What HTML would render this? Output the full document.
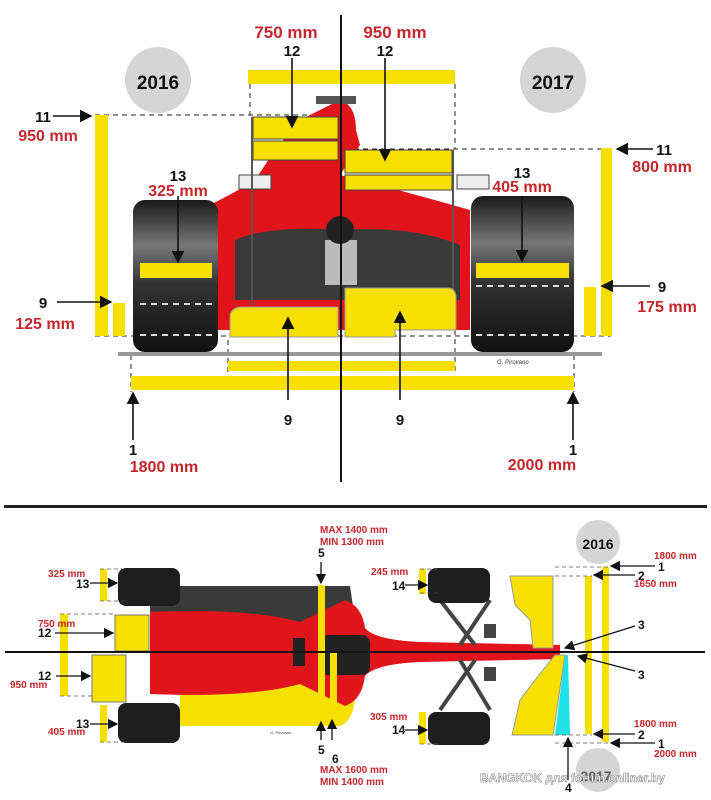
<!DOCTYPE html>
<html><head><meta charset="utf-8"><style>
html,body{margin:0;padding:0;background:#fff;}
svg{display:block;}
.r{fill:#c4262c;font-family:"Liberation Sans",sans-serif;font-weight:bold;}
.b{fill:#111;font-family:"Liberation Sans",sans-serif;font-weight:bold;}
</style></head><body>
<svg width="711" height="800" viewBox="0 0 711 800" xmlns="http://www.w3.org/2000/svg">
<defs>
<linearGradient id="tire" x1="0" y1="0" x2="0" y2="1">
<stop offset="0" stop-color="#1a1a1a"/><stop offset="0.3" stop-color="#777"/><stop offset="0.55" stop-color="#333"/><stop offset="1" stop-color="#111"/></linearGradient>
<marker id="ah" markerWidth="8" markerHeight="8" refX="7" refY="4" orient="auto"><path d="M0,0 L8,4 L0,8z" fill="#111"/></marker>
</defs>
<!-- TOP SECTION -->
<circle cx="158" cy="80" r="33" fill="#d5d5d5"/>
<circle cx="553" cy="80" r="33" fill="#d5d5d5"/>
<text x="158" y="89" class="b" font-size="19" text-anchor="middle">2016</text>
<text x="553" y="89" class="b" font-size="19" text-anchor="middle">2017</text>
<rect x="248" y="70" width="207" height="14" fill="#f7e000"/>
<g stroke="#222" stroke-dasharray="5,4" fill="none" stroke-width="1">
<line x1="250" y1="84" x2="250" y2="115"/><line x1="455" y1="84" x2="455" y2="149"/>
<line x1="95" y1="115" x2="340" y2="115"/><line x1="345" y1="149" x2="611" y2="149"/>
<line x1="95" y1="336" x2="611" y2="336"/>
<line x1="131" y1="355" x2="131" y2="392"/><line x1="574" y1="355" x2="574" y2="392"/>
<line x1="228" y1="340" x2="228" y2="372"/><line x1="455" y1="330" x2="455" y2="372"/>
</g>
<!-- red body -->
<path d="M200,330 L200,210 Q240,190 255,180 L275,150 L300,120 L340,100 Q356,105 356,130 L360,145 L340,175 Q400,190 470,210 L470,330z" fill="#e0141a"/>
<path d="M235,240 Q270,225 340,230 Q410,225 460,245 L460,300 L235,300z" fill="#3a3a3a"/>
<rect x="325" y="240" width="32" height="45" fill="#bbb"/>
<circle cx="340" cy="230" r="14" fill="#222"/>
<!-- wings -->
<rect x="253" y="117" width="85" height="22" fill="#f7e000" stroke="#444" stroke-width="1"/>
<rect x="253" y="141" width="85" height="19" fill="#f7e000" stroke="#444" stroke-width="1"/>
<rect x="345" y="150" width="107" height="23" fill="#f7e000" stroke="#444" stroke-width="1"/>
<rect x="345" y="175" width="107" height="15" fill="#f7e000" stroke="#444" stroke-width="1"/>
<rect x="316" y="96" width="40" height="8" fill="#555"/>
<rect x="239" y="175" width="32" height="14" fill="#eee" stroke="#444"/>
<rect x="457" y="175" width="32" height="14" fill="#eee" stroke="#444"/>
<line x1="252" y1="117" x2="252" y2="305" stroke="#555" stroke-width="2"/>
<line x1="453" y1="150" x2="453" y2="300" stroke="#555" stroke-width="2"/>
<!-- diffuser -->
<path d="M230,337 L230,315 Q232,308 240,307 L338,307 L338,337z" fill="#f7e000" stroke="#999"/>
<path d="M345,337 L345,288 L450,288 Q456,290 456,298 L456,330 L395,330 L395,337z" fill="#f7e000" stroke="#999"/>
<!-- tires -->
<rect x="133" y="200" width="85" height="152" rx="12" fill="url(#tire)"/>
<rect x="471" y="196" width="103" height="156" rx="12" fill="url(#tire)"/>
<rect x="140" y="263" width="72" height="15" fill="#f7e000"/>
<rect x="476" y="263" width="93" height="15" fill="#f7e000"/>
<g stroke="#ddd" stroke-dasharray="6,5" stroke-width="2"><line x1="140" y1="304" x2="212" y2="304"/><line x1="476" y1="286" x2="569" y2="286"/><line x1="140" y1="335" x2="212" y2="335"/><line x1="476" y1="335" x2="569" y2="335"/></g>
<rect x="118" y="352" width="484" height="4" fill="#999"/>
<text x="497" y="364" font-size="6" font-style="italic" fill="#333" font-family="Liberation Sans">G. Pirovano</text>
<rect x="228" y="361" width="227" height="10" fill="#f7e000"/>
<rect x="131" y="376" width="443" height="14" fill="#f7e000"/>
<rect x="95" y="115" width="13" height="221" fill="#f7e000"/>
<rect x="113" y="303" width="12" height="33" fill="#f7e000"/>
<rect x="601" y="148" width="11" height="188" fill="#f7e000"/>
<rect x="584" y="287" width="12" height="49" fill="#f7e000"/>
<line x1="341" y1="15" x2="341" y2="482" stroke="#111" stroke-width="2"/>
<!-- arrows top -->
<g stroke="#111" stroke-width="1.6" marker-end="url(#ah)" fill="none">
<line x1="292" y1="58" x2="292" y2="127"/><line x1="385" y1="58" x2="385" y2="160"/>
<line x1="53" y1="116" x2="91" y2="116"/><line x1="653" y1="149" x2="617" y2="149"/>
<line x1="178" y1="196" x2="178" y2="262"/><line x1="522" y1="196" x2="522" y2="261"/>
<line x1="57" y1="302" x2="111" y2="302"/><line x1="650" y1="286" x2="602" y2="286"/>
<line x1="288" y1="400" x2="288" y2="318"/><line x1="400" y1="400" x2="400" y2="312"/>
<line x1="133" y1="440" x2="133" y2="393"/><line x1="573" y1="440" x2="573" y2="393"/>
</g>
<text x="286" y="38" class="r" font-size="17" text-anchor="middle">750 mm</text>
<text x="395" y="38" class="r" font-size="17" text-anchor="middle">950 mm</text>
<text x="292" y="56" class="b" font-size="15" text-anchor="middle">12</text>
<text x="385" y="56" class="b" font-size="15" text-anchor="middle">12</text>
<text x="43" y="122" class="b" font-size="15" text-anchor="middle">11</text>
<text x="48" y="141" class="r" font-size="16" text-anchor="middle">950 mm</text>
<text x="664" y="155" class="b" font-size="15" text-anchor="middle">11</text>
<text x="662" y="172" class="r" font-size="16" text-anchor="middle">800 mm</text>
<text x="178" y="181" class="b" font-size="15" text-anchor="middle">13</text>
<text x="178" y="196" class="r" font-size="16" text-anchor="middle">325 mm</text>
<text x="522" y="178" class="b" font-size="15" text-anchor="middle">13</text>
<text x="522" y="192" class="r" font-size="16" text-anchor="middle">405 mm</text>
<text x="43" y="308" class="b" font-size="15" text-anchor="middle">9</text>
<text x="45" y="329" class="r" font-size="16" text-anchor="middle">125 mm</text>
<text x="662" y="292" class="b" font-size="15" text-anchor="middle">9</text>
<text x="667" y="312" class="r" font-size="16" text-anchor="middle">175 mm</text>
<text x="288" y="425" class="b" font-size="15" text-anchor="middle">9</text>
<text x="400" y="425" class="b" font-size="15" text-anchor="middle">9</text>
<text x="133" y="455" class="b" font-size="15" text-anchor="middle">1</text>
<text x="164" y="472" class="r" font-size="16" text-anchor="middle">1800 mm</text>
<text x="573" y="455" class="b" font-size="15" text-anchor="middle">1</text>
<text x="542" y="470" class="r" font-size="16" text-anchor="middle">2000 mm</text>
<rect x="4" y="505" width="703" height="3" fill="#222"/>

<!-- BOTTOM SECTION -->
<circle cx="598" cy="542" r="22" fill="#d5d5d5"/>
<text x="598" y="549" class="b" font-size="14" text-anchor="middle">2016</text>
<circle cx="598" cy="770" r="22" fill="#d5d5d5"/>
<!-- floor / body -->
<path d="M150,586 L350,586 L355,620 L350,652 L150,652z" fill="#3a3a3a"/>
<path d="M180,652 L350,652 L355,700 Q352,722 340,726 L180,726z" fill="#f7e000"/>
<path d="M150,612 Q250,608 300,622 L345,600 Q362,606 365,628 Q375,640 420,642 L560,645 L560,659 L420,662 Q375,664 365,676 Q362,700 345,706 L300,684 Q250,698 150,694z" fill="#e0141a"/>
<rect x="320" y="635" width="50" height="40" rx="8" fill="#222"/>
<rect x="293" y="638" width="12" height="28" fill="#222"/>
<!-- wings rear -->
<rect x="115" y="615" width="34" height="36" fill="#f7e000" stroke="#777"/>
<rect x="92" y="655" width="34" height="47" fill="#f7e000" stroke="#777"/>
<!-- suspension front -->
<g stroke="#444" stroke-width="4"><line x1="440" y1="600" x2="475" y2="645"/><line x1="490" y1="600" x2="460" y2="645"/><line x1="440" y1="710" x2="475" y2="660"/><line x1="490" y1="710" x2="460" y2="660"/></g>
<rect x="484" y="624" width="12" height="14" fill="#444"/>
<rect x="484" y="667" width="12" height="14" fill="#444"/>
<!-- tires -->
<rect x="118" y="568" width="62" height="38" rx="8" fill="#1e1e1e"/>
<rect x="118" y="703" width="62" height="40" rx="8" fill="#1e1e1e"/>
<rect x="428" y="568" width="62" height="35" rx="8" fill="#1e1e1e"/>
<rect x="428" y="712" width="62" height="33" rx="8" fill="#1e1e1e"/>
<!-- front wing -->
<path d="M510,576 L553,576 L553,648 L533,648 L530,620 L515,605z" fill="#f7e000" stroke="#999"/>
<path d="M512,735 L553,735 L565,655 L555,655 L535,680 L520,700z" fill="#f7e000" stroke="#999"/>
<path d="M565,655 L568,655 L570,735 L555,735z" fill="#20e0e8"/>
<!-- yellow bars -->
<rect x="318" y="585" width="7" height="135" fill="#f7e000"/>
<rect x="330" y="652" width="7" height="66" fill="#f7e000"/>
<rect x="585" y="576" width="7" height="158" fill="#f7e000"/>
<rect x="602" y="567" width="7" height="175" fill="#f7e000"/>
<rect x="100" y="569" width="7" height="32" fill="#f7e000"/>
<rect x="100" y="705" width="7" height="37" fill="#f7e000"/>
<rect x="60" y="614" width="8" height="82" fill="#f7e000"/>
<rect x="419" y="569" width="7" height="25" fill="#f7e000"/>
<rect x="419" y="712" width="7" height="32" fill="#f7e000"/>
<g stroke="#555" stroke-dasharray="4,3" stroke-width="0.8"><line x1="100" y1="569" x2="125" y2="569"/><line x1="100" y1="601" x2="125" y2="601"/><line x1="100" y1="742" x2="125" y2="742"/><line x1="60" y1="614" x2="115" y2="614"/><line x1="60" y1="696" x2="95" y2="696"/><line x1="420" y1="569" x2="440" y2="569"/><line x1="420" y1="593" x2="440" y2="593"/><line x1="420" y1="744" x2="440" y2="744"/><line x1="555" y1="567" x2="609" y2="567"/><line x1="555" y1="576" x2="592" y2="576"/><line x1="555" y1="735" x2="592" y2="735"/><line x1="555" y1="743" x2="609" y2="743"/></g>
<line x1="5" y1="652" x2="705" y2="652" stroke="#111" stroke-width="2"/>
<text x="270" y="734" font-size="4" font-style="italic" fill="#333" font-family="Liberation Sans">G. Pirovano</text>
<g stroke="#111" stroke-width="1.3" marker-end="url(#ah)" fill="none">
<line x1="321" y1="562" x2="321" y2="583"/><line x1="321" y1="740" x2="321" y2="722"/><line x1="332" y1="740" x2="332" y2="720"/>
<line x1="90" y1="583" x2="117" y2="583"/><line x1="90" y1="724" x2="117" y2="724"/>
<line x1="55" y1="633" x2="113" y2="633"/><line x1="56" y1="676" x2="90" y2="676"/>
<line x1="405" y1="585" x2="427" y2="585"/><line x1="405" y1="730" x2="427" y2="730"/>
<line x1="655" y1="566" x2="611" y2="566"/><line x1="635" y1="575" x2="594" y2="575"/>
<line x1="635" y1="734" x2="594" y2="734"/><line x1="655" y1="743" x2="611" y2="743"/>
<line x1="635" y1="626" x2="565" y2="648"/><line x1="635" y1="671" x2="578" y2="656"/>
<line x1="568" y1="780" x2="568" y2="738"/>
</g>
<g font-size="10">
<text x="320" y="533" class="r">MAX 1400 mm</text><text x="320" y="545" class="r">MIN  1300 mm</text>
<text x="320" y="773" class="r">MAX 1600 mm</text><text x="320" y="785" class="r">MIN  1400 mm</text>
<text x="48" y="577" class="r">325 mm</text><text x="38" y="627" class="r">750 mm</text>
<text x="10" y="688" class="r">950 mm</text><text x="48" y="735" class="r">405 mm</text>
<text x="371" y="575" class="r">245 mm</text><text x="370" y="720" class="r">305 mm</text>
<text x="654" y="559" class="r">1800 mm</text><text x="634" y="587" class="r">1650 mm</text>
<text x="634" y="727" class="r">1800 mm</text><text x="654" y="757" class="r">2000 mm</text>
</g>
<g font-size="12">
<text x="318" y="557" class="b">5</text><text x="318" y="754" class="b">5</text><text x="332" y="763" class="b">6</text>
<text x="76" y="588" class="b">13</text><text x="76" y="728" class="b">13</text>
<text x="38" y="637" class="b">12</text><text x="38" y="680" class="b">12</text>
<text x="392" y="590" class="b">14</text><text x="392" y="734" class="b">14</text>
<text x="658" y="571" class="b">1</text><text x="638" y="580" class="b">2</text>
<text x="638" y="739" class="b">2</text><text x="658" y="748" class="b">1</text>
<text x="638" y="629" class="b">3</text><text x="638" y="679" class="b">3</text>
<text x="565" y="792" class="b">4</text>
</g>
<text x="596" y="781" class="b" font-size="14" text-anchor="middle" opacity="0.6">2017</text>
<text x="480" y="782" font-family="Liberation Sans" font-weight="bold" font-size="12" fill="#fff" stroke="#888" stroke-width="0.6">BANGKOK для forum.onliner.by</text>
</svg>
</body></html>
